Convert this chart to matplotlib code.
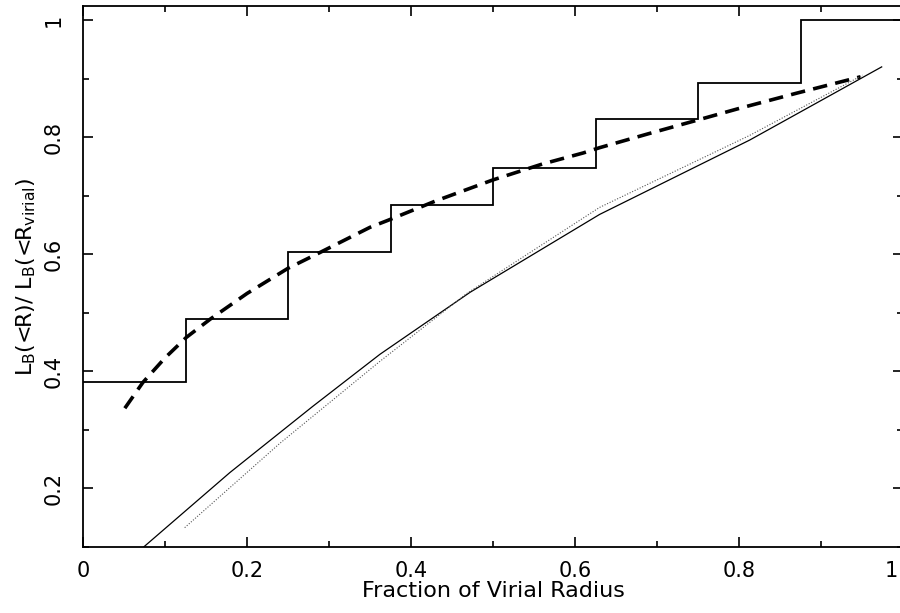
import numpy as np
import matplotlib
matplotlib.use("Agg")
import matplotlib.pyplot as plt
from matplotlib.ticker import MultipleLocator

# cumulative light fraction in radial bins of R/R_virial
bin_edges = [0.0, 0.125, 0.25, 0.375, 0.5, 0.625, 0.75, 0.875, 1.0]
bin_frac = [0.381, 0.489, 0.603, 0.684, 0.747, 0.831, 0.892, 1.0]

# fitted profile (dashed)
fit_r = [0.051, 0.073, 0.100, 0.126, 0.155, 0.200, 0.250, 0.289, 0.350,
         0.372, 0.430, 0.500, 0.560, 0.610, 0.630, 0.690, 0.749, 0.800,
         0.870, 0.948]
fit_l = [0.337, 0.381, 0.423, 0.458, 0.489, 0.533, 0.576, 0.603, 0.646,
         0.658, 0.691, 0.727, 0.754, 0.773, 0.782, 0.806, 0.829, 0.849,
         0.875, 0.903]

# model profile (solid)
mod_r = [0.074, 0.179, 0.280, 0.362, 0.472, 0.630, 0.813, 0.974]
mod_l = [0.100, 0.227, 0.340, 0.429, 0.535, 0.668, 0.795, 0.920]

# second model (dotted)
mod2_r = [0.124, 0.240, 0.362, 0.468, 0.630, 0.813, 0.951]
mod2_l = [0.133, 0.277, 0.417, 0.533, 0.680, 0.803, 0.906]

x_ticks = [0, 0.2, 0.4, 0.6, 0.8, 1.0]
x_ticklabels = ['0', '0.2', '0.4', '0.6', '0.8', '1']
y_ticks = [0.2, 0.4, 0.6, 0.8, 1.0]
y_ticklabels = ['0.2', '0.4', '0.6', '0.8', '1']

plt.rcParams['font.family'] = ['DejaVu Sans']
plt.rcParams['mathtext.default'] = 'regular'

fig = plt.figure(figsize=(9.0, 6.13), dpi=100)
ax = fig.add_axes([83 / 900, 66 / 613, 820 / 900, 541 / 613])

ax.stairs(bin_frac, bin_edges, baseline=None, color='black', lw=1.3)
ax.plot(fit_r, fit_l, color='black', lw=2.6, ls=(0, (4, 2.3)))
ax.plot(mod_r, mod_l, color='black', lw=0.9)
ax.plot(mod2_r, mod2_l, color='#555555', lw=0.8, ls=(0, (1, 1.5)))

ax.set_xlim(0, 1)
ax.set_ylim(0.1, 1.024)
ax.xaxis.set_minor_locator(MultipleLocator(0.1))
ax.yaxis.set_minor_locator(MultipleLocator(0.1))
# the last x label sits on the figure edge, so it is drawn by hand just inside
ax.set_xticks(x_ticks)
ax.set_xticklabels(x_ticklabels[:-1] + [''])
ax.annotate(x_ticklabels[-1], xy=(x_ticks[-1], 0), xycoords=('data', 'axes fraction'),
            xytext=(-4, -10), textcoords='offset points', ha='right', va='top',
            fontsize=15)
ax.set_yticks(y_ticks)
ax.set_yticklabels(y_ticklabels, rotation=90, va='center')

ax.tick_params(which='both', direction='in', top=True, right=True,
               width=1.2, labelsize=15, color='black')
ax.tick_params(which='major', length=7.5)
ax.tick_params(which='minor', length=4.5)
ax.tick_params(axis='x', pad=10)
ax.tick_params(axis='y', pad=14)
for sp in ax.spines.values():
    sp.set_linewidth(1.3)

ax.set_xlabel('Fraction of Virial Radius', fontsize=16, labelpad=0)
ax.set_ylabel(r'L$_{B}$(<R)/ L$_{B}$(<R$_{virial}$)', fontsize=16, labelpad=4)

fig.savefig('out.png', dpi=100)
